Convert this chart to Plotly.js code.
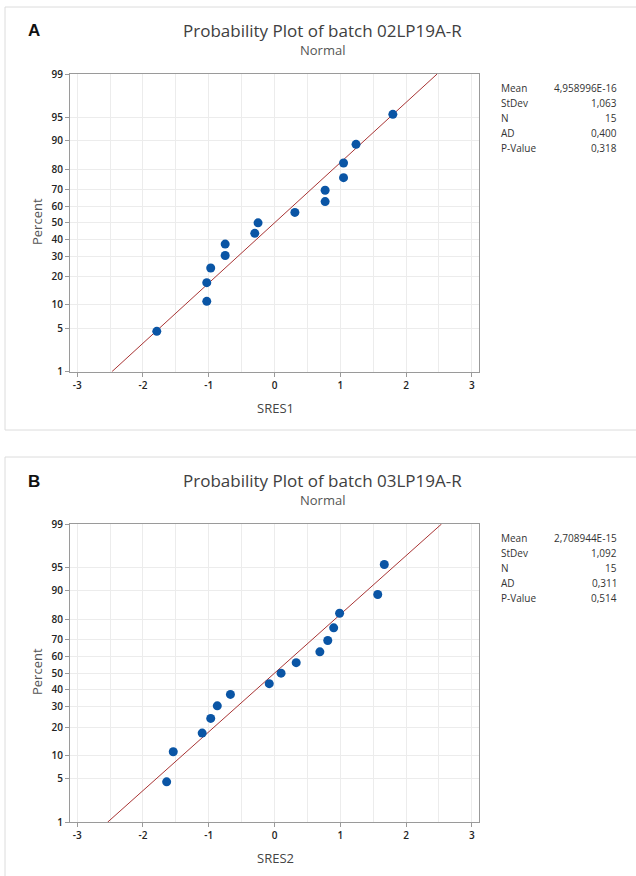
<!DOCTYPE html>
<html>
<head>
<meta charset="utf-8">
<script src="https://cdn.plot.ly/plotly-3.0.1.min.js"></script>
<style>
  html, body { margin: 0; padding: 0; background: #ffffff; }
  #chart { width: 636px; height: 876px; }
</style>
</head>
<body>
<div id="chart"></div>
<script>
// ---------------- data ----------------
const percentTicks = [1, 5, 10, 20, 30, 40, 50, 60, 70, 80, 90, 95, 99];
const xTickVals = [-3, -2, -1, 0, 1, 2, 3];
const plotPercent = [4.5, 11.0, 17.5, 24.0, 30.5, 37.0, 43.5, 50.0, 56.5, 63.0, 69.5, 76.0, 82.5, 89.0, 95.5];
const sres1 = [-1.79, -1.03, -1.03, -0.97, -0.75, -0.75, -0.30, -0.25, 0.31, 0.77, 0.77, 1.05, 1.05, 1.24, 1.80];
const sres2 = [-1.64, -1.54, -1.10, -0.97, -0.87, -0.67, -0.08, 0.10, 0.33, 0.69, 0.81, 0.90, 0.99, 1.57, 1.67];
const fitPercent = [1, 99];
const meanA = 4.958996e-16, sdA = 1.063;
const meanB = 2.708944e-15, sdB = 1.092;
const statLabels = ['Mean', 'StDev', 'N', 'AD', 'P-Value'];
const statValuesA = ['4,958996E-16', '1,063', '15', '0,400', '0,318'];
const statValuesB = ['2,708944E-15', '1,092', '15', '0,311', '0,514'];
const titleA = 'Probability Plot of batch 02LP19A-R';
const titleB = 'Probability Plot of batch 03LP19A-R';
const subTitle = 'Normal';
const xTitleA = 'SRES1', xTitleB = 'SRES2', yTitle = 'Percent';

// ------------- inverse normal (probability scale) -------------
function invNorm(p) {
  const a = [-3.969683028665376e+01, 2.209460984245205e+02, -2.759285104469687e+02, 1.383577518672690e+02, -3.066479806614716e+01, 2.506628277459239e+00];
  const b = [-5.447609879822406e+01, 1.615858368580409e+02, -1.556989798598866e+02, 6.680131188771972e+01, -1.328068155288572e+01];
  const c = [-7.784894002430293e-03, -3.223964580411365e-01, -2.400758277161838e+00, -2.549671010115224e+00, 4.374664141464968e+00, 2.938163982698783e+00];
  const d = [7.784695709041462e-03, 3.224671290700398e-01, 2.445134137142996e+00, 3.754408661907416e+00];
  const pl = 0.02425, ph = 1 - pl;
  let q, r;
  if (p < pl) { q = Math.sqrt(-2 * Math.log(p)); return (((((c[0]*q+c[1])*q+c[2])*q+c[3])*q+c[4])*q+c[5]) / ((((d[0]*q+d[1])*q+d[2])*q+d[3])*q+1); }
  if (p <= ph) { q = p - 0.5; r = q*q; return (((((a[0]*r+a[1])*r+a[2])*r+a[3])*r+a[4])*r+a[5])*q / (((((b[0]*r+b[1])*r+b[2])*r+b[3])*r+b[4])*r+1); }
  q = Math.sqrt(-2 * Math.log(1 - p));
  return -(((((c[0]*q+c[1])*q+c[2])*q+c[3])*q+c[4])*q+c[5]) / ((((d[0]*q+d[1])*q+d[2])*q+d[3])*q+1);
}
const z = pc => invNorm(pc / 100);

// ------------- layout helpers (pixels -> paper) -------------
const W = 636, H = 876;
const px = x => x / W;
const py = y => 1 - y / H;
const FONT = 'Open Sans, Noto Sans, sans-serif';

const pointColor = '#0a55a5';
const lineColor = '#a83434';

function traces(xs, mean, sd, xa, ya) {
  return [
    { type: 'scatter', mode: 'lines', x: fitPercent.map(p => mean + sd * z(p)), y: fitPercent.map(z),
      xaxis: xa, yaxis: ya, line: { color: lineColor, width: 1 }, hoverinfo: 'skip', showlegend: false, cliponaxis: true },
    { type: 'scatter', mode: 'markers', x: xs, y: plotPercent.map(z), xaxis: xa, yaxis: ya,
      marker: { color: pointColor, size: 9 }, showlegend: false }
  ];
}

function xAxis(dom, anchor) {
  return {
    domain: dom, anchor: anchor, range: [-3.11, 3.11], tickvals: xTickVals, ticktext: xTickVals.map(String),
    showline: true, mirror: true, linecolor: '#9a9a9a', linewidth: 1,
    ticks: 'outside', ticklen: 4, tickcolor: '#9a9a9a',
    showgrid: true, gridcolor: '#ececec', gridwidth: 1, zeroline: false,
    minor: { dtick: 0.5, tick0: 0, showgrid: true, gridcolor: '#ececec', ticks: '' },
    tickfont: { family: FONT, size: 10, color: '#222', weight: 600 }, fixedrange: true
  };
}
function yAxis(dom, anchor) {
  return {
    domain: dom, anchor: anchor, range: [z(1), z(99)], tickvals: percentTicks.map(z), ticktext: percentTicks.map(String),
    showline: true, mirror: true, linecolor: '#9a9a9a', linewidth: 1,
    ticks: 'outside', ticklen: 4, tickcolor: '#9a9a9a',
    showgrid: true, gridcolor: '#ececec', gridwidth: 1, zeroline: false,
    tickfont: { family: FONT, size: 10, color: '#222', weight: 600 }, fixedrange: true
  };
}

const ann = [];
function panelText(top, title, xTitle, letter, stats) {
  ann.push({ text: '<b>' + letter + '</b>', x: px(34), y: py(top + 31), xref: 'paper', yref: 'paper', showarrow: false,
    xanchor: 'center', yanchor: 'middle', font: { family: 'Liberation Sans, Arial, sans-serif', size: 17, color: '#111' } });
  ann.push({ text: title, x: px(322), y: py(top + 30), xref: 'paper', yref: 'paper', showarrow: false,
    xanchor: 'center', yanchor: 'middle', font: { family: FONT, size: 17, color: '#404040' } });
  ann.push({ text: subTitle, x: px(322), y: py(top + 50), xref: 'paper', yref: 'paper', showarrow: false,
    xanchor: 'center', yanchor: 'middle', font: { family: FONT, size: 13, color: '#555' } });
  ann.push({ text: yTitle, x: px(37), y: py(top + 222), xref: 'paper', yref: 'paper', showarrow: false, textangle: -90,
    xanchor: 'center', yanchor: 'middle', font: { family: FONT, size: 13, color: '#555' } });
  ann.push({ text: xTitle, x: px(275), y: py(top + 408), xref: 'paper', yref: 'paper', showarrow: false,
    xanchor: 'center', yanchor: 'middle', font: { family: FONT, size: 13, color: '#444' } });
  statLabels.forEach((lab, i) => {
    const yy = py(top + 88 + i * 15);
    ann.push({ text: lab, x: px(499), y: yy, xref: 'paper', yref: 'paper', showarrow: false,
      xanchor: 'left', yanchor: 'middle', font: { family: FONT, size: 10, color: '#333' } });
    ann.push({ text: stats[i], x: px(619), y: yy, xref: 'paper', yref: 'paper', showarrow: false,
      xanchor: 'right', yanchor: 'middle', font: { family: FONT, size: 10, color: '#333' } });
  });
}
panelText(0, titleA, xTitleA, 'A', statValuesA);
panelText(450, titleB, xTitleB, 'B', statValuesB);

const shapes = [
  { type: 'rect', xref: 'paper', yref: 'paper', x0: px(5), x1: px(700), y0: py(7), y1: py(430), line: { color: '#dcdcdc', width: 1 }, layer: 'below' },
  { type: 'rect', xref: 'paper', yref: 'paper', x0: px(5), x1: px(700), y0: py(457), y1: py(900), line: { color: '#dcdcdc', width: 1 }, layer: 'below' }
];

const layout = {
  width: W, height: H, margin: { l: 0, r: 0, t: 0, b: 0 },
  paper_bgcolor: '#ffffff', plot_bgcolor: '#ffffff', showlegend: false,
  xaxis: xAxis([px(70), px(479)], 'y'),
  yaxis: yAxis([py(371.7), py(74)], 'x'),
  xaxis2: xAxis([px(70), px(479)], 'y2'),
  yaxis2: yAxis([py(822.3), py(524)], 'x2'),
  annotations: ann, shapes: shapes, hovermode: false
};

const data = [].concat(traces(sres1, meanA, sdA, 'x', 'y'), traces(sres2, meanB, sdB, 'x2', 'y2'));
Plotly.newPlot('chart', data, layout, { displayModeBar: false, staticPlot: true });
</script>
</body>
</html>
